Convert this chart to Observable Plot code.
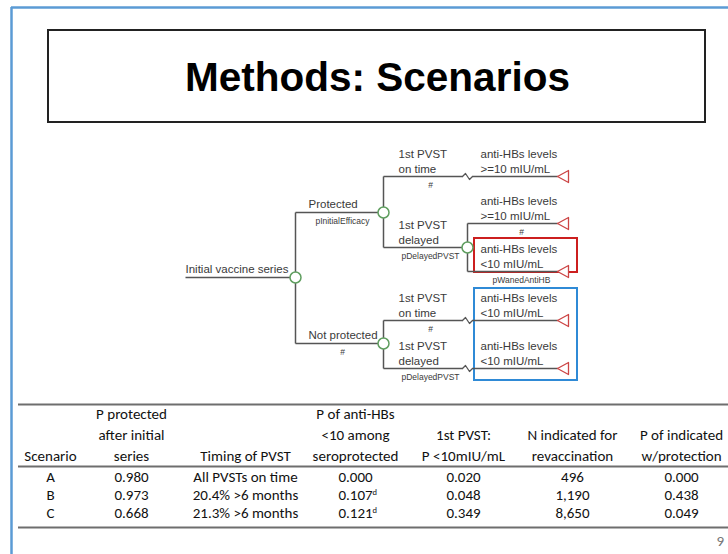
<!DOCTYPE html>
<html><head><meta charset="utf-8">
<script src="https://cdn.jsdelivr.net/npm/d3@7"></script>
<script src="https://cdn.jsdelivr.net/npm/@observablehq/plot@0.6"></script>
<style>body{margin:0;background:#fff;overflow:hidden}</style>
</head><body><div id="chart"></div>
<script>
// ---------- content ----------
const slideTitle = "Methods: Scenarios";
const rootLabel = "Initial vaccine series";
const stateLabels = ["Protected", "Not protected"];
const stateProbs = ["pInitialEfficacy", "#"];
const pvstLabels = ["1st PVST\non time", "1st PVST\ndelayed"];
const pvstProbs = ["#", "pDelayedPVST"];
const titerLabels = ["anti-HBs levels\n>=10 mIU/mL", "anti-HBs levels\n<10 mIU/mL"];
const titerProbs = ["#", "pWanedAntiHB"];

const tableHeaders = ["Scenario", "P protected\nafter initial\nseries", "Timing of PVST",
  "P of anti-HBs\n<10 among\nseroprotected", "1st PVST:\nP <10mIU/mL",
  "N indicated for\nrevaccination", "P of indicated\nw/protection"];
const scenarios = ["A", "B", "C"];
const pProtected = [0.980, 0.973, 0.668];
const pvstTiming = ["All PVSTs on time", "20.4% >6 months", "21.3% >6 months"];
const pWanedLow = [0.000, 0.107, 0.121];
const pWanedNote = ["", "d", "d"];
const pFirstPvstLow = [0.020, 0.048, 0.349];
const nRevaccination = [496, 1190, 8650];
const pIndicatedProtected = [0.000, 0.438, 0.049];
const pageNumber = "9";

// ---------- layout ----------
const W = 728, H = 554;
const xRootStart = 185, xN0 = 295, xN1 = 383, xN2 = 467, xTerm = 557, xZig = 462;
const yRoot = 277, yState = [212, 343], yPvst = [[176, 247], [320, 368]], yTiter = [223, 271];
const colX = [50, 131, 245, 355, 463, 572, 681];
const headY = [414, 435, 456], rowY = [477, 495, 513];
const ruleY = [404, 466, 527];

const treeFont = "Liberation Sans, Arial, sans-serif";
const tableFont = "Carlito, Lato, sans-serif";
const lineCol = "#555", nodeCol = "#5f9e5f", termCol = "#cc4444", txtCol = "#3a3a3a";

// build tree geometry
const segs = [], nodes = [], terms = [], zigs = [], treeTxt = [], probTxt = [];
segs.push({x1: xRootStart, y1: yRoot, x2: xN0, y2: yRoot});
segs.push({x1: xN0, y1: yState[0], x2: xN0, y2: yState[1]});
nodes.push({x: xN0, y: yRoot});
treeTxt.push({x: xRootStart, y: yRoot - 9, t: rootLabel});
stateLabels.forEach((lab, s) => {
  const ys = yState[s];
  segs.push({x1: xN0, y1: ys, x2: xN1, y2: ys});
  nodes.push({x: xN1, y: ys});
  treeTxt.push({x: xN0 + 13, y: ys - 9, t: lab});
  probTxt.push({x: 342, y: ys + 9, t: stateProbs[s]});
  segs.push({x1: xN1, y1: yPvst[s][0], x2: xN1, y2: yPvst[s][1]});
  pvstLabels.forEach((pl, p) => {
    const y = yPvst[s][p];
    treeTxt.push({x: xN1 + 15, y: y - 16, t: pl});
    probTxt.push({x: 430, y: y + 9, t: pvstProbs[p]});
    if (s === 0 && p === 1) {
      segs.push({x1: xN1, y1: y, x2: xN2, y2: y});
      nodes.push({x: xN2, y});
      segs.push({x1: xN2, y1: yTiter[0], x2: xN2, y2: yTiter[1]});
      titerLabels.forEach((tl, k) => {
        const yt = yTiter[k];
        segs.push({x1: xN2, y1: yt, x2: xTerm, y2: yt});
        terms.push(yt);
        treeTxt.push({x: xN2 + 13, y: yt - 16, t: tl});
        probTxt.push({x: 521, y: yt + 9, t: titerProbs[k]});
      });
    } else {
      segs.push({x1: xN1, y1: y, x2: xZig, y2: y});
      segs.push({x1: xZig + 10, y1: y, x2: xTerm, y2: y});
      zigs.push(y);
      terms.push(y);
      treeTxt.push({x: xN2 + 13, y: y - 16, t: titerLabels[s === 0 ? 0 : 1]});
    }
  });
});
const triPts = terms.flatMap((y, i) => [
  {id: i, x: xTerm, y}, {id: i, x: xTerm + 11, y: y - 6}, {id: i, x: xTerm + 11, y: y + 6}, {id: i, x: xTerm, y}
]);
const zigPts = zigs.flatMap((y, i) => [
  {id: i, x: xZig, y}, {id: i, x: xZig + 3, y: y - 3}, {id: i, x: xZig + 7, y: y + 3}, {id: i, x: xZig + 10, y}
]);

// table cells
const headCells = [];
tableHeaders.forEach((h, c) => {
  const lines = h.split("\n");
  lines.forEach((ln, i) => headCells.push({x: colX[c], y: headY[headY.length - lines.length + i], t: ln}));
});
const f3 = d3.format(".3f"), fN = d3.format(",");
const bodyCells = [];
scenarios.forEach((s, r) => {
  const vals = [s, f3(pProtected[r]), pvstTiming[r], f3(pWanedLow[r]), f3(pFirstPvstLow[r]), fN(nRevaccination[r]), f3(pIndicatedProtected[r])];
  vals.forEach((v, c) => bodyCells.push({x: colX[c], y: rowY[r], t: v}));
});
const notes = pWanedNote.map((n, r) => ({x: colX[3] + 17, y: rowY[r] - 3, t: n})).filter(d => d.t);

const chart = Plot.plot({
  width: W, height: H, margin: 0,
  x: {domain: [0, W], range: [0, W], axis: null},
  y: {domain: [0, H], range: [0, H], axis: null},
  marks: [
    // slide border
    Plot.ruleX([11], {y1: 7, y2: H, stroke: "#5b9bd5", strokeWidth: 2.5}),
    Plot.ruleY([7], {x1: 11, x2: W, stroke: "#5b9bd5", strokeWidth: 2.5}),
    // title box
    Plot.rect([{x1: 48, x2: 705, y1: 30, y2: 122}], {x1: "x1", x2: "x2", y1: "y1", y2: "y2", fill: "white", stroke: "#222", strokeWidth: 2}),
    Plot.text([slideTitle], {x: 377, y: 78, text: d => d, fontSize: 40.5, fontWeight: "bold", fontFamily: treeFont, fill: "#000"}),
    // highlight boxes
    Plot.rect([{x1: 474, x2: 577, y1: 238, y2: 272}], {x1: "x1", x2: "x2", y1: "y1", y2: "y2", fill: "none", stroke: "#cc1f1f", strokeWidth: 2}),
    Plot.rect([{x1: 474, x2: 577, y1: 288, y2: 380}], {x1: "x1", x2: "x2", y1: "y1", y2: "y2", fill: "none", stroke: "#2f8ad6", strokeWidth: 2}),
    // tree
    Plot.link(segs, {x1: "x1", y1: "y1", x2: "x2", y2: "y2", stroke: lineCol, strokeWidth: 1.5}),
    Plot.line(zigPts, {x: "x", y: "y", z: "id", stroke: lineCol, strokeWidth: 1.3}),
    Plot.line(triPts, {x: "x", y: "y", z: "id", stroke: termCol, fill: "white", strokeWidth: 1.3}),
    Plot.dot(nodes, {x: "x", y: "y", r: 5.5, stroke: nodeCol, fill: "white", strokeWidth: 1.5}),
    Plot.text(treeTxt, {x: "x", y: "y", text: "t", textAnchor: "start", lineAnchor: "middle", lineHeight: 1.33, fontSize: 11.5, fontFamily: treeFont, fill: txtCol}),
    Plot.text(probTxt, {x: "x", y: "y", text: "t", textAnchor: "middle", fontSize: 8.5, fontFamily: treeFont, fill: txtCol}),
    // table
    Plot.ruleY(ruleY, {x1: 18, x2: W, stroke: "#6e6e6e", strokeWidth: 2}),
    Plot.text(headCells, {x: "x", y: "y", text: "t", fontSize: 15, fontFamily: tableFont, fill: "#111"}),
    Plot.text(bodyCells, {x: "x", y: "y", text: "t", fontSize: 15, fontFamily: tableFont, fill: "#111"}),
    Plot.text(notes, {x: "x", y: "y", text: "t", textAnchor: "start", fontSize: 8.5, fontFamily: tableFont, fill: "#111"}),
    Plot.text([pageNumber], {x: 716, y: 541, text: d => d, textAnchor: "start", fontSize: 15, fontFamily: tableFont, fill: "#777"})
  ]
});
document.getElementById("chart").appendChild(chart);
</script></body></html>
